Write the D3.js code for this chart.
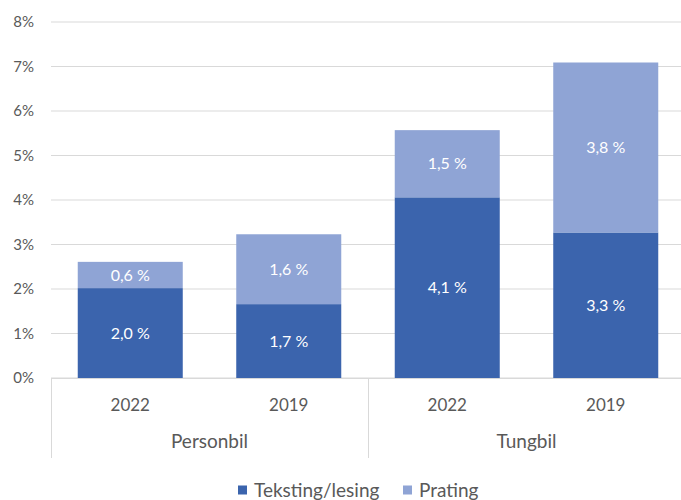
<!DOCTYPE html>
<html>
<head>
<meta charset="utf-8">
<script src="https://cdn.jsdelivr.net/npm/d3@7"></script>
<style>
    body { margin: 0; background: #fff; }
    svg { font-family: Lato, "Open Sans", sans-serif; }
    .axis-label { fill: #595959; }
    .bar-label { fill: #fff; }
</style>
</head>
<body>
<div id="chart"></div>
<script>
// data
var years = ["2022", "2019", "2022", "2019"];
var groups = ["Personbil", "Personbil", "Tungbil", "Tungbil"];
var groupNames = ["Personbil", "Tungbil"];
var teksting = [2.02, 1.66, 4.06, 3.27];
var prating = [0.59, 1.57, 1.51, 3.82];
var seriesNames = ["Teksting/lesing", "Prating"];
var yTicks = [0, 1, 2, 3, 4, 5, 6, 7, 8];

var colors = { "Teksting/lesing": "#3b64ad", "Prating": "#8fa4d5" };

var width = 681, height = 500;

var svg = d3.select("#chart")
    .append("svg")
    .attr("width", width)
    .attr("height", height);

var xScale = d3.scaleBand()
    .domain(d3.range(years.length))
    .range([51, 685])
    .paddingInner(0.3375)
    .paddingOuter(0.3375 / 2);

var yScale = d3.scaleLinear()
    .domain([0, 8])
    .range([378, 22]);

// gridlines
svg.append("g")
    .selectAll("line")
    .data(yTicks)
    .enter()
    .append("line")
    .attr("x1", 51)
    .attr("x2", 685)
    .attr("y1", function(d) { return yScale(d); })
    .attr("y2", function(d) { return yScale(d); })
    .attr("stroke", "#d9d9d9")
    .attr("stroke-width", 1);

// y tick labels
svg.append("g")
    .selectAll("text")
    .data(yTicks)
    .enter()
    .append("text")
    .attr("class", "axis-label")
    .attr("x", 34)
    .attr("y", function(d) { return yScale(d); })
    .attr("dy", "0.35em")
    .attr("text-anchor", "end")
    .style("font-size", "15px")
    .text(function(d) { return d + "%"; });

// stacked data
var rows = years.map(function(y, i) {
    return { i: i, "Teksting/lesing": teksting[i], "Prating": prating[i] };
});
var stacked = d3.stack().keys(seriesNames)(rows);

var layer = svg.selectAll(".layer")
    .data(stacked)
    .enter()
    .append("g")
    .attr("class", "layer")
    .attr("fill", function(d) { return colors[d.key]; });

layer.selectAll("rect")
    .data(function(d) { return d; })
    .enter()
    .append("rect")
    .attr("x", function(d) { return xScale(d.data.i); })
    .attr("width", xScale.bandwidth())
    .attr("y", function(d) { return yScale(d[1]); })
    .attr("height", function(d) { return yScale(d[0]) - yScale(d[1]); });

layer.selectAll("text")
    .data(function(d) { return d; })
    .enter()
    .append("text")
    .attr("class", "bar-label")
    .attr("x", function(d) { return xScale(d.data.i) + xScale.bandwidth() / 2; })
    .attr("y", function(d) { return (yScale(d[0]) + yScale(d[1])) / 2; })
    .attr("dy", "0.35em")
    .attr("text-anchor", "middle")
    .style("font-size", "16px")
    .text(function(d) {
        return (d[1] - d[0]).toFixed(1).replace(".", ",") + " %";
    });

// x axis: baseline, separators, year and group labels
svg.append("line")
    .attr("x1", 51).attr("x2", 685)
    .attr("y1", 378.5).attr("y2", 378.5)
    .attr("stroke", "#d9d9d9");

var step = xScale.step();
var separators = [0, 2, 4].map(function(i) { return 51 + i * step; });

svg.append("g")
    .selectAll("line")
    .data(separators)
    .enter()
    .append("line")
    .attr("x1", function(d) { return Math.round(d) + 0.5; })
    .attr("x2", function(d) { return Math.round(d) + 0.5; })
    .attr("y1", 378)
    .attr("y2", 458)
    .attr("stroke", "#d9d9d9");

svg.append("g")
    .selectAll("text")
    .data(years)
    .enter()
    .append("text")
    .attr("class", "axis-label")
    .attr("x", function(d, i) { return xScale(i) + xScale.bandwidth() / 2; })
    .attr("y", 405)
    .attr("dy", "0.35em")
    .attr("text-anchor", "middle")
    .style("font-size", "17px")
    .text(function(d) { return d; });

svg.append("g")
    .selectAll("text")
    .data(groupNames)
    .enter()
    .append("text")
    .attr("class", "axis-label")
    .attr("x", function(d) {
        var idx = groups.map(function(g, i) { return g === d ? i : -1; }).filter(function(i) { return i >= 0; });
        return (xScale(idx[0]) + xScale(idx[idx.length - 1]) + xScale.bandwidth()) / 2;
    })
    .attr("y", 441)
    .attr("dy", "0.35em")
    .attr("text-anchor", "middle")
    .style("font-size", "19px")
    .text(function(d) { return d; });

// legend
var legendX = [238, 403];
var legend = svg.append("g")
    .selectAll("g")
    .data(seriesNames)
    .enter()
    .append("g")
    .attr("transform", function(d, i) { return "translate(" + legendX[i] + ",490)"; });

legend.append("rect")
    .attr("x", 0)
    .attr("y", -4.5)
    .attr("width", 9)
    .attr("height", 9)
    .attr("fill", function(d) { return colors[d]; });

legend.append("text")
    .attr("class", "axis-label")
    .attr("x", 16)
    .attr("y", 0)
    .attr("dy", "0.35em")
    .style("font-size", "19px")
    .text(function(d) { return d; });
</script>
</body>
</html>
